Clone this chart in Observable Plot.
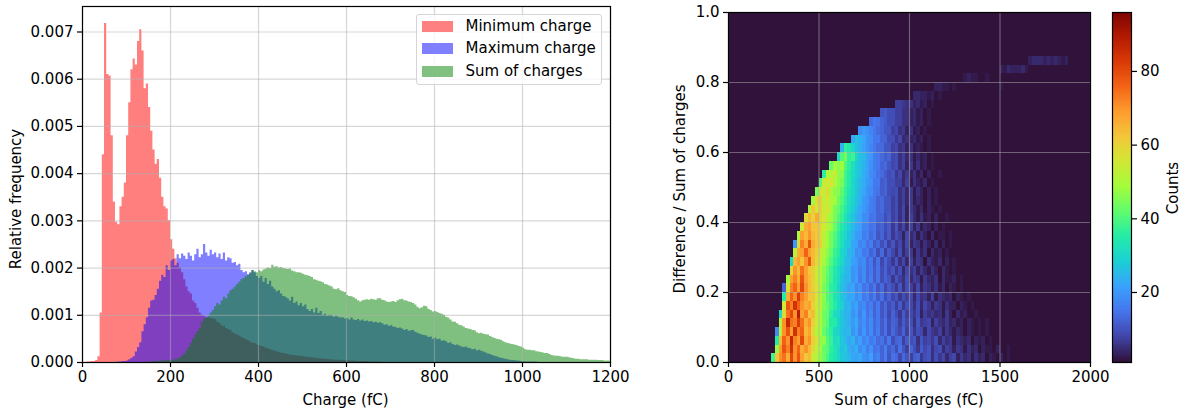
<!DOCTYPE html>
<html><head><meta charset="utf-8">
<script src="https://cdn.jsdelivr.net/npm/d3@7"></script>
<script src="https://cdn.jsdelivr.net/npm/@observablehq/plot@0.6"></script>
<style>
html,body{margin:0;padding:0;background:#fff;overflow:hidden}
#root{position:relative;width:1187px;height:410px;font-family:"DejaVu Sans",sans-serif;color:#000;font-size:15px}
#root svg{position:absolute;top:0;background:transparent}
.lbl{position:absolute;white-space:nowrap;transform:translate(-50%,-50%);line-height:1}
.rot{transform:translate(-50%,-50%) rotate(-90deg)}
#legend{position:absolute;left:416px;top:14px;width:186px;height:71px;box-sizing:border-box;background:rgba(255,255,255,.8);border:1px solid #d5d5d5;border-radius:3px}
.sw{position:absolute;left:5px;width:31px;height:11px}
.lt{position:absolute;left:48.5px;line-height:1;white-space:nowrap}
</style></head><body><div id="root"></div>
<script>
// histogram heights in units of 1e-5, bins of 5 fC from 0
const minCharge=[0,0,1,1,2,2,4,12,105,440,718,610,607,480,340,297,292,330,350,380,480,550,620,643,630,680,705,660,580,590,540,490,450,420,430,390,350,330,325,300,260,240,220,210,200,190,175,160,150,145,130,125,115,105,100,98,95,95,93,92,91,86,83,78,76,72,70,68,63,60,58,56,53,51,48,46,43,41,40,37,36,34,33,30,29,27,26,24,23,21,20,19,18,17,16,15,15,14,13,13,12,11,11,10,10,9,9,8,8,7,7,7,6,6,5,5,5,5,4,4,4,3,3,3,3,2,2,2,2,2,1,1,1,1,1,1];
const maxCharge=[0,0,0,0,0,0,0,0,0,0,0,0,0,0,0,0,1,1,2,2,3,6,9,12,22,32,42,65,80,95,115,130,132,142,155,172,185,180,205,195,215,218,205,228,220,230,225,218,232,225,215,228,240,222,228,250,232,225,238,228,232,222,230,218,232,215,222,220,210,212,205,208,195,190,192,186,190,195,190,182,178,182,170,178,165,172,160,155,150,152,145,140,138,135,130,138,125,128,120,125,118,122,112,108,112,105,115,104,108,100,102,98,100,99,96,98,96,94,95,92,93,90,94,90,89,91,88,90,87,88,86,87,84,85,83,84,82,79,80,77,78,75,74,72,73,71,68,70,66,67,68,64,62,60,58,57,56,53,54,49,52,48,49,45,46,44,40,42,38,36,37,35,33,32,33,30,29,27,28,25,26,24,22,20,18,17,15,13,12,10,9,8,7,6,5,4,4,3,3,2,2,1,1,1,1,1,1];
const sumCharge=[0,0,0,0,0,0,0,0,0,0,0,0,0,0,0,0,0,0,0,0,0,0,0,0,0,0,0,0,0,0,1,1,2,2,2,3,3,3,4,4,5,5,6,8,10,14,18,25,32,40,50,58,65,72,85,92,95,98,105,110,118,125,122,130,138,135,145,152,155,160,165,170,175,178,182,185,188,195,192,190,195,192,196,198,200,199,206,202,203,200,201,199,198,197,198,194,192,190,190,189,187,185,184,182,180,175,174,172,171,169,165,164,162,160,155,154,156,152,150,148,142,140,139,137,134,131,128,131,132,133,132,134,133,132,135,135,132,131,128,127,128,129,127,131,133,134,131,130,128,127,125,122,117,114,116,119,118,113,110,107,108,106,104,102,100,96,94,90,86,85,82,79,78,75,72,71,70,68,67,63,61,62,60,59,58,55,53,51,49,48,47,44,42,40,39,38,37,36,34,33,30,27,26,26,25,25,23,22,21,20,19,19,17,15,14,13,13,12,11,11,11,10,9,8,7,7,6,6,6,6,5,5,5,5,4,4,4,3,3,3,3];
const binWidth=5;
const xTicksLeft=[0,200,400,600,800,1000,1200];
const yTicksLeft=[0,.001,.002,.003,.004,.005,.006,.007];
const legendNames=["Minimum charge","Maximum charge","Sum of charges"];

// 2-D counts: each row is a band of difference/sum, cells 20 fC wide, starting at a column index
const heatStart=[12,13,13,13,14,14,15,15,15,16,17,17,18,18,19,20,21,22,23,24,25,26,28,30,31,34,36,39,42,46,51,57,65,75,83];
const heatRows=[
[38,62,70,74,66,80,70,78,68,62,64,54,50,46,43,39,35,33,30,27,26,25,22,21,23,19,18,21,15,17,12,16,10,14,13,8,13,10,7,11,12,6,9,10,5,9,6,8,4,7,8,3,6,4,5,2,5,3,4,1,3,2,0,3,1,2,0,1,1,0,1,0,0,1,0,1,0,0,1],
[47,68,78,72,84,70,76,66,70,64,58,52,48,42,41,36,33,30,26,28,23,21,24,18,20,16,19,14,15,12,16,11,13,9,14,10,7,12,9,6,11,8,10,5,8,9,4,7,6,3,6,5,2,5,3,4,1,3,2,2,1,3,0,1,2,0,1,0,1,0,0,1,0,0,1],
[35,64,76,70,86,72,68,80,66,70,60,56,46,47,40,37,31,32,27,25,22,24,19,21,17,19,15,17,13,14,11,15,9,12,13,7,11,9,10,5,10,7,8,6,9,4,7,5,6,2,5,4,3,4,1,3,2,3,0,2,1,1,0,1,0,1,1,0,0,1],
[18,52,70,78,68,84,72,76,64,68,58,50,49,42,39,36,30,29,26,24,25,19,22,16,20,15,18,13,16,11,14,9,13,10,8,12,7,10,6,9,8,4,8,6,5,7,3,6,4,2,4,3,1,3,2,1,2,1,2,0,1,0,1,1,0,0,1],
[50,70,86,74,72,82,74,66,70,60,54,48,44,41,35,35,29,27,25,23,20,23,17,19,15,18,13,15,11,14,9,12,11,7,11,8,9,5,10,6,7,8,3,7,5,4,6,3,4,2,3,1,3,2,1,2,0,2,1,1,0,1,0,0,1,0,1],
[30,58,74,80,70,88,68,72,62,64,52,50,43,42,36,31,30,26,24,24,19,21,16,20,14,17,12,15,10,13,8,12,9,6,11,7,8,6,9,3,7,5,6,4,5,2,6,3,1,4,2,3,1,1,2,0,1,0,1,0,0,1],
[55,78,72,84,76,70,66,68,60,54,52,45,42,38,35,30,29,24,24,20,22,17,18,14,16,12,15,10,13,9,11,7,11,6,9,8,5,9,4,8,6,3,6,5,2,5,3,3,1,3,2,0,2,1,0,1,1,0,1,0,1],
[35,66,76,70,82,72,68,62,62,55,50,46,40,38,33,31,27,25,22,22,18,20,15,17,13,16,11,14,9,12,8,10,6,9,7,8,4,8,5,6,3,7,2,5,4,3,4,1,3,2,1,2,0,1,1,0,1,0,0,1],
[12,56,72,76,68,80,70,64,60,56,50,44,41,36,34,29,26,24,21,22,17,19,14,16,12,15,10,13,8,11,9,6,10,5,9,7,4,8,3,6,5,3,5,2,4,1,3,2,1,2,1,1,0,1,0,1,0,1],
[48,68,72,66,78,68,64,60,54,50,46,41,38,33,31,27,24,24,19,21,15,18,13,16,11,14,9,12,10,6,10,7,5,9,4,7,6,2,6,4,3,5,1,4,2,2,3,0,2,1,1,0,1,0,1],
[58,70,64,74,68,62,60,54,50,46,42,38,34,31,28,25,24,19,20,16,18,13,15,11,14,9,12,8,10,6,9,4,8,5,7,3,6,4,2,5,3,1,4,2,1,2,1,1,0,1,0,0,1],
[30,64,68,62,70,78,64,58,55,48,45,40,36,33,30,26,25,21,20,17,18,13,15,10,14,8,12,9,6,10,5,8,4,7,3,6,5,1,5,3,2,4,0,3,1,2,0,1,1,0,1,0,1],
[52,66,68,76,68,64,60,54,50,46,42,37,35,30,28,24,23,18,19,15,16,12,14,9,13,7,11,8,5,9,4,7,6,2,6,3,5,1,4,2,3,1,2,1,1,0,1,0,1,0,1],
[20,58,72,66,78,66,62,60,52,48,44,39,36,32,28,27,22,21,17,18,14,16,11,13,9,12,7,10,6,8,4,8,3,6,5,2,5,3,1,4,1,3,0,2,1,0,1,1,0,1],
[50,68,64,70,64,62,57,52,48,44,40,36,32,30,26,24,20,20,16,17,13,15,10,12,8,11,6,9,7,3,8,4,6,2,5,3,1,4,1,2,2,0,2,1,0,1,0,1],
[55,66,68,62,62,58,55,50,48,42,38,34,31,28,25,22,21,17,17,14,15,11,12,9,11,6,10,5,8,4,7,3,6,2,4,3,1,3,1,2,0,1,1,0,1],
[58,64,60,66,58,56,52,48,44,40,37,33,29,27,23,22,18,18,14,15,12,12,9,11,7,9,5,8,3,7,4,2,5,2,3,1,3,1,1,2,0,1,0,1],
[50,62,56,60,54,56,50,44,42,38,35,31,28,25,22,20,18,16,15,12,13,10,10,7,9,5,8,3,6,4,2,4,1,3,2,1,2,0,1,1,0,1],
[48,58,60,52,56,50,48,43,40,36,32,29,26,24,20,19,16,15,12,13,10,10,7,9,5,7,4,6,2,4,3,1,3,1,2,0,1,1,0,1],
[44,56,54,58,50,46,46,41,37,33,30,27,24,22,19,18,15,14,11,12,9,8,9,5,7,4,6,2,5,3,1,3,1,2,0,1,0,1],
[40,54,54,56,50,46,44,38,35,30,27,25,23,20,19,15,15,11,12,9,9,7,7,4,7,2,5,3,2,4,1,2,1,1,0,1,0,1],
[36,50,50,54,46,46,38,35,31,28,26,23,21,18,17,14,13,11,9,10,6,8,4,6,3,5,2,4,1,3,1,1,2,0,1,0,1],
[42,48,46,48,40,36,32,28,26,24,21,19,16,15,12,13,10,8,9,5,7,3,6,2,5,2,3,1,2,1,0,1,1,0,1],
[30,40,44,36,38,30,26,25,21,20,16,15,13,11,12,8,9,5,7,4,5,2,4,2,3,1,2,1,1,0,1,0,1],
[24,36,34,30,26,24,21,19,17,15,13,13,10,10,7,8,5,6,3,5,2,3,2,1,2,1,1,0,1,0,1],
[22,26,24,22,19,18,15,15,12,12,9,9,6,8,4,5,3,4,2,3,1,2,1,1,0,1,0,1],
[18,20,19,17,15,13,12,10,10,7,8,5,6,3,5,2,3,1,2,1,1,0,1,0,1,0,1],
[13,15,14,12,11,9,9,7,7,5,5,3,4,2,3,1,2,1,1,1,0,1,0,1],
[10,11,9,9,7,7,5,5,3,4,2,3,1,2,1,1,1,0,1,0,1],
[7,7,6,5,5,3,4,2,3,1,2,1,1,1,0,1,0,0,1],
[4,4,3,3,2,3,1,2,1,1,1,0,1,0,1,0,0,1],
[3,3,2,2,1,2,1,1,0,1,0,1,0,0,1,0,0,0,2,1,1],
[2,3,2,2,1,0,2],
[3,2,4,3,3,3,4,2],
[3,4,4,4,3,4,3,4,3,2,3,1,1]
];
const cellWidth=20, cellHeight=.025;
const xTicksRight=[0,500,1000,1500,2000];
const yTicksRight=[0,.2,.4,.6,.8,1];
const countTicks=[20,40,60,80];
const countDomain=[1,96];
const turboStops=["#30123b","#4145ab","#4675ed","#39a2fc","#1bcfd4","#24eca6","#61fc6c","#a4fc3b","#d1e834","#f3c63a","#fe9b2d","#f36315","#d93806","#b11901","#7a0402"];

const root=document.getElementById("root");
const font={fontFamily:'"DejaVu Sans",sans-serif',fontSize:"15px",background:"transparent",overflow:"visible"};
const gridStyle={stroke:"#b0b0b0",strokeOpacity:.5,strokeWidth:1.2};
const axisStyle={tickSize:5,tickPadding:4,stroke:"black",fill:"black",label:null,fontSize:15,strokeWidth:1.2};
const toBins=a=>d3.range(241).map(i=>({x:i*binWidth,y:(a[i]||0)/1e5}));
const area=(a,fill)=>Plot.areaY(toBins(a),{x:"x",y:"y",fill,fillOpacity:.5,curve:"step-after"});

const left=Plot.plot({width:620,height:410,marginLeft:82,marginRight:10,marginTop:6,marginBottom:48,style:font,
 x:{domain:[0,1200]},y:{domain:[0,.00754]},
 marks:[
  area(minCharge,"red"),area(maxCharge,"blue"),area(sumCharge,"green"),
  Plot.gridX(xTicksLeft,gridStyle),Plot.gridY(yTicksLeft,gridStyle),
  Plot.axisX({...axisStyle,ticks:xTicksLeft,tickFormat:"d"}),
  Plot.axisY({...axisStyle,ticks:yTicksLeft,tickFormat:".3f"}),
  Plot.frame({stroke:"black",strokeWidth:1.2})
 ]});
left.style.left="0px";root.append(left);

const cells=[];
heatRows.forEach((row,k)=>{
 row.forEach((v,j)=>{ if(v>0){const c=heatStart[k]+j;cells.push({x1:c*cellWidth,x2:(c+1)*cellWidth,y1:k*cellHeight,y2:(k+1)*cellHeight,v});}});
});
const colorScale={type:"linear",domain:countDomain,interpolate:d3.piecewise(d3.interpolateRgb,turboStops)};
const right=Plot.plot({width:480,height:410,marginLeft:108,marginRight:10,marginTop:12,marginBottom:48,style:font,
 x:{domain:[0,2000]},y:{domain:[0,1]},color:colorScale,
 marks:[
  Plot.frame({fill:"#30123b"}),
  Plot.rect(cells,{x1:"x1",x2:"x2",y1:"y1",y2:"y2",fill:"v",shapeRendering:"crispEdges"}),
  Plot.gridX(xTicksRight,gridStyle),Plot.gridY(yTicksRight,gridStyle),
  Plot.axisX({...axisStyle,ticks:xTicksRight,tickFormat:"d"}),
  Plot.axisY({...axisStyle,ticks:yTicksRight,tickFormat:".1f"}),
  Plot.frame({stroke:"black",strokeWidth:1.2})
 ]});
right.style.left="620px";root.append(right);

const levels=d3.range(1,96,.5);
const bar=Plot.plot({width:87,height:410,marginLeft:12,marginRight:56,marginTop:12,marginBottom:48,style:font,
 x:{domain:[0,1],axis:null},y:{domain:countDomain},color:colorScale,
 marks:[
  Plot.rect(levels,{x1:0,x2:1,y1:d=>d,y2:d=>d+.5,fill:d=>d,shapeRendering:"crispEdges"}),
  Plot.axisY({...axisStyle,anchor:"right",ticks:countTicks,tickFormat:"d"}),
  Plot.frame({stroke:"black",strokeWidth:1.2})
 ]});
bar.style.left="1100px";root.append(bar);

const label=(t,x,y,rot)=>{const d=document.createElement("div");d.className="lbl"+(rot?" rot":"");d.textContent=t;d.style.left=x+"px";d.style.top=y+"px";root.append(d);};
label("Charge (fC)",345.5,400);
label("Relative frequency",16,199,true);
label("Sum of charges (fC)",909,400);
label("Difference / Sum of charges",680,189,true);
label("Counts",1173,188,true);

const lg=document.createElement("div");lg.id="legend";
["#ff8080","#8080ff","#80c080"].forEach((c,i)=>{
 const s=document.createElement("div");s.className="sw";s.style.background=c;s.style.top=(5.7+22.5*i)+"px";lg.append(s);
 const t=document.createElement("div");t.className="lt";t.textContent=legendNames[i];t.style.top=(3.5+22.5*i)+"px";lg.append(t);
});
root.append(lg);
</script></body></html>
